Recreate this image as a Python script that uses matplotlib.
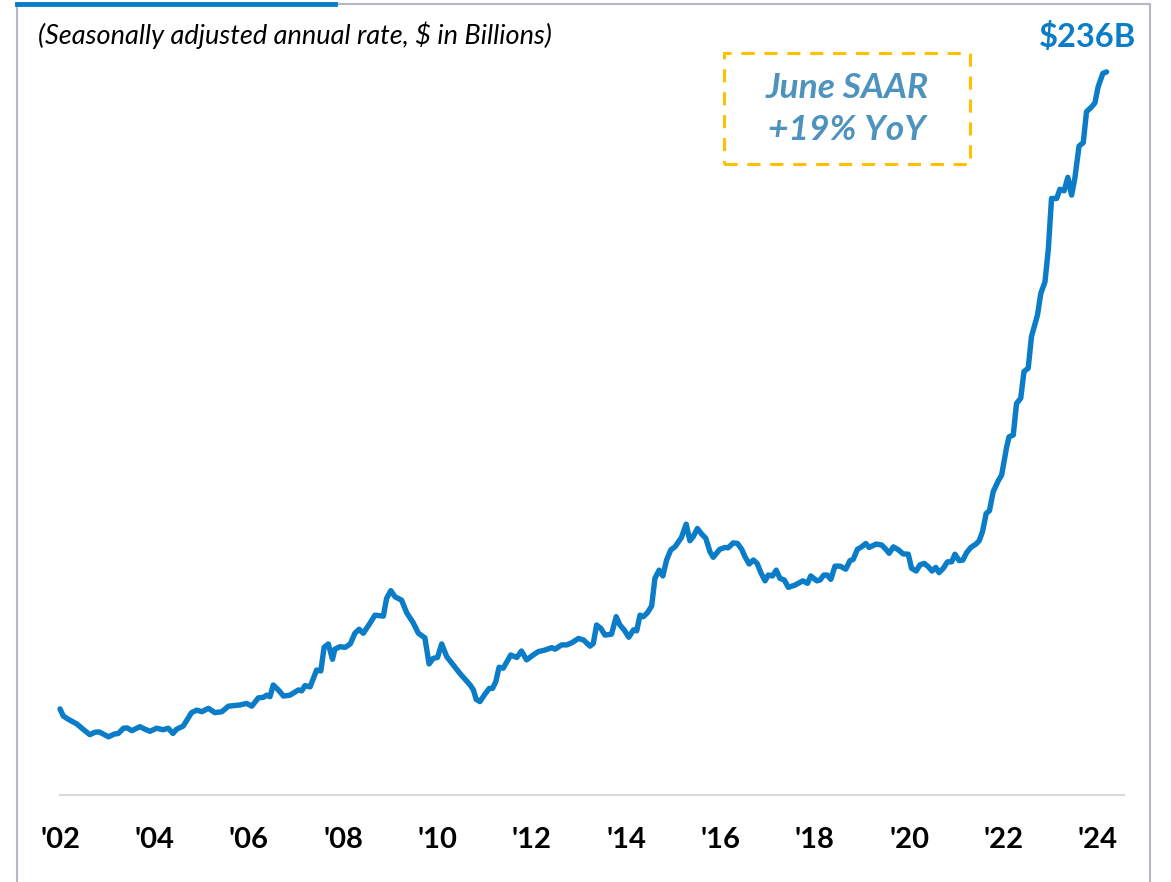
import matplotlib
matplotlib.use("Agg")
import matplotlib.pyplot as plt
from matplotlib.lines import Line2D
from matplotlib.patches import Rectangle

# manufacturing construction spending, SAAR, $B
years = [
    2002.00, 2002.07, 2002.18, 2002.36, 2002.50, 2002.64, 2002.75, 2002.84,
    2003.04, 2003.16, 2003.25, 2003.36, 2003.44, 2003.54, 2003.71, 2003.82,
    2003.93, 2004.07, 2004.21, 2004.32, 2004.42, 2004.50, 2004.64, 2004.82,
    2004.93, 2005.04, 2005.18, 2005.32, 2005.47, 2005.61, 2005.86, 2006.00,
    2006.11, 2006.25, 2006.36, 2006.43, 2006.50, 2006.57, 2006.68, 2006.79,
    2006.93, 2007.11, 2007.18, 2007.25, 2007.36, 2007.50, 2007.59, 2007.66,
    2007.75, 2007.84, 2007.89, 2008.00, 2008.11, 2008.22, 2008.32, 2008.41,
    2008.50, 2008.64, 2008.75, 2008.93, 2009.00, 2009.09, 2009.18, 2009.32,
    2009.43, 2009.57, 2009.68, 2009.82, 2009.91, 2010.00, 2010.09, 2010.18,
    2010.29, 2010.39, 2010.57, 2010.79, 2010.86, 2010.92, 2011.00, 2011.11,
    2011.20, 2011.27, 2011.34, 2011.41, 2011.50, 2011.66, 2011.79, 2011.89,
    2012.00, 2012.14, 2012.25, 2012.39, 2012.54, 2012.61, 2012.75, 2012.86,
    2012.97, 2013.11, 2013.22, 2013.36, 2013.43, 2013.50, 2013.59, 2013.68,
    2013.82, 2013.92, 2014.00, 2014.09, 2014.19, 2014.29, 2014.36, 2014.43,
    2014.50, 2014.59, 2014.68, 2014.75, 2014.84, 2014.92, 2015.00, 2015.09,
    2015.18, 2015.32, 2015.42, 2015.50, 2015.57, 2015.66, 2015.75, 2015.84,
    2015.93, 2016.00, 2016.14, 2016.25, 2016.32, 2016.43, 2016.52, 2016.61,
    2016.68, 2016.77, 2016.86, 2016.94, 2017.02, 2017.11, 2017.18, 2017.27,
    2017.35, 2017.43, 2017.52, 2017.61, 2017.75, 2017.92, 2018.02, 2018.09,
    2018.22, 2018.29, 2018.37, 2018.44, 2018.52, 2018.61, 2018.72, 2018.84,
    2018.93, 2019.00, 2019.09, 2019.18, 2019.27, 2019.34, 2019.49, 2019.61,
    2019.70, 2019.77, 2019.86, 2019.97, 2020.07, 2020.18, 2020.25, 2020.35,
    2020.43, 2020.52, 2020.61, 2020.69, 2020.77, 2020.84, 2020.93, 2021.02,
    2021.11, 2021.18, 2021.27, 2021.35, 2021.43, 2021.52, 2021.63, 2021.70,
    2021.77, 2021.85, 2021.92, 2022.00, 2022.11, 2022.18, 2022.29, 2022.34,
    2022.43, 2022.50, 2022.59, 2022.66, 2022.75, 2022.82, 2022.95, 2023.02,
    2023.11, 2023.18, 2023.25, 2023.36, 2023.43, 2023.52, 2023.60, 2023.68,
    2023.75, 2023.84, 2023.93, 2024.00, 2024.11, 2024.18, 2024.25, 2024.35,
    2024.43,
]
spending = [
    28.1, 25.8, 24.7, 23.2, 21.4, 19.7, 20.5, 20.6,
    19.0, 19.9, 20.1, 21.8, 21.9, 21.0, 22.3, 21.5,
    20.8, 21.8, 21.3, 21.8, 20.1, 21.5, 22.5, 26.9,
    27.7, 27.2, 28.3, 26.9, 27.2, 29.0, 29.4, 29.9,
    29.0, 31.7, 31.9, 32.6, 32.1, 35.9, 34.3, 32.3,
    32.6, 34.3, 34.0, 35.7, 35.3, 40.8, 40.5, 48.2,
    49.3, 44.3, 47.6, 48.4, 48.2, 49.3, 52.8, 54.1,
    52.8, 56.0, 58.7, 58.4, 64.2, 66.7, 64.7, 63.6,
    59.5, 56.2, 52.8, 51.3, 42.8, 44.6, 44.9, 49.3,
    45.1, 43.2, 39.7, 35.9, 34.3, 31.2, 30.5, 33.0,
    34.8, 34.8, 37.0, 41.7, 41.4, 45.7, 44.9, 47.0,
    44.1, 45.7, 46.8, 47.3, 48.1, 47.6, 49.0, 49.0,
    49.7, 51.1, 50.6, 48.6, 49.5, 55.5, 54.4, 52.2,
    52.5, 58.2, 55.5, 53.9, 51.5, 53.9, 53.6, 58.7,
    58.2, 59.5, 61.7, 70.7, 73.4, 71.5, 76.7, 80.0,
    81.0, 84.1, 88.4, 83.0, 84.3, 87.0, 85.2, 83.8,
    79.4, 77.6, 80.2, 80.8, 80.7, 82.3, 82.1, 80.2,
    77.8, 75.4, 76.7, 75.6, 72.6, 69.9, 71.8, 71.5,
    73.4, 70.7, 70.2, 67.8, 68.5, 69.9, 69.1, 71.5,
    69.9, 70.2, 71.8, 71.8, 70.4, 74.7, 74.7, 73.7,
    76.5, 76.9, 80.2, 81.0, 82.1, 80.8, 81.9, 81.6,
    80.2, 78.9, 81.0, 80.0, 78.7, 78.6, 74.0, 73.1,
    75.1, 75.6, 74.5, 73.1, 74.3, 72.6, 74.0, 76.1,
    76.1, 78.6, 76.5, 76.7, 79.1, 80.8, 81.9, 83.0,
    85.9, 91.9, 92.8, 99.0, 102.6, 104.4, 113.7, 116.9,
    117.5, 127.8, 129.5, 138.2, 139.3, 149.6, 156.7, 163.7,
    167.5, 177.9, 194.7, 194.7, 197.7, 197.2, 201.6, 195.8,
    201.3, 211.8, 212.9, 223.0, 224.6, 225.9, 231.2, 235.5,
    236.0,
]
tick_years = list(range(2002, 2025, 2))
tick_labels = ["'%02d" % (y % 100) for y in tick_years]

BLUE = '#0a7cc8'
GOLD = '#ffc000'
STEEL = '#4d93bd'
FRAME = '#b4b8c4'

fig = plt.figure(figsize=(11.71, 8.82), dpi=100)
ax = fig.add_axes([0.0353, 0.0986, 0.9324, 0.8685])

ax.plot(years, spending, color=BLUE, lw=3.9, solid_capstyle='round', solid_joinstyle='round')

ax.set_xlim(2001.6, 2025.0)
ax.set_ylim(0, 250)
ax.set_yticks([])
# labels on the slide sit a touch wider apart than the data grid
ax.set_xticks([y + (y - 2002) * 0.011 for y in tick_years])
ax.set_xticklabels(tick_labels, fontsize=21, fontweight='bold', family='Lato')
ax.tick_params(axis='x', length=0, pad=23)
for s in ['top', 'right', 'left']:
    ax.spines[s].set_visible(False)
ax.spines['bottom'].set_color('#d9d9d9')
ax.spines['bottom'].set_linewidth(1.5)
ax.spines['bottom'].set_bounds(2002, 2024.8)

# subtitle and callouts
fig.text(0.0325, 0.960, '(Seasonally adjusted annual rate, $ in Billions)',
         fontsize=19.5, style='italic', family='Lato', ha='left', va='center')
fig.text(0.9291, 0.958, '$236B', fontsize=23.5, fontweight='bold', color=BLUE,
         family='Lato', ha='center', va='center')
fig.patches.append(Rectangle((0.6183, 0.8141), 0.2101, 0.1259, transform=fig.transFigure,
                             fill=False, ec=GOLD, lw=2.2, ls=(0, (4.3, 3.2))))
fig.text(0.7233, 0.9002, 'June SAAR', fontsize=25.5, fontweight='bold', style='italic',
         color=STEEL, family='Lato', ha='center', va='center')
fig.text(0.7233, 0.8526, '+19% YoY', fontsize=25.5, fontweight='bold', style='italic',
         color=STEEL, family='Lato', ha='center', va='center')

# slide frame
fig.add_artist(Line2D([0.0145, 0.0145], [0.0, 0.996], color=FRAME, lw=1.5, transform=fig.transFigure))
fig.add_artist(Line2D([0.982, 0.982], [0.0, 0.996], color=FRAME, lw=1.5, transform=fig.transFigure))
fig.add_artist(Line2D([0.286, 0.982], [0.995, 0.995], color=FRAME, lw=1.5, transform=fig.transFigure))
fig.add_artist(Line2D([0.0145, 0.286], [0.996, 0.996], color=BLUE, lw=3.5, transform=fig.transFigure))

fig.savefig('out.png', dpi=100)
